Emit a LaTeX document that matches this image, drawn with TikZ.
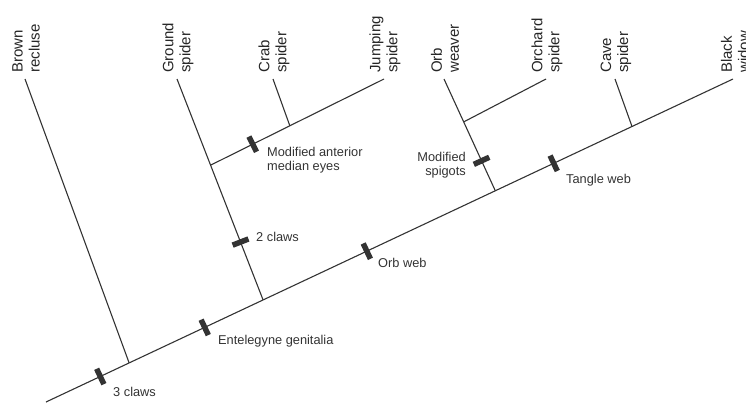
\documentclass[tikz,border=0pt]{standalone}
\usepackage{fontspec}
\setmainfont{Liberation Sans}
\usetikzlibrary{calc}

\tikzstyle{branch}=[draw=black!80,line width=1.1bp]
\tikzstyle{trait}=[shape=rectangle,fill=black!80,minimum width=5.5bp,minimum height=17bp,inner sep=0pt,sloped]
\tikzstyle{taxon}=[rotate=90,anchor=west,align=left,inner sep=0pt,text=black!85,font=\fontsize{15bp}{17bp}\selectfont]
\tikzstyle{traitLabel}=[anchor=west,align=left,inner sep=0pt,text=black!80,font=\fontsize{12.8bp}{14bp}\selectfont]

\begin{document}
\begin{tikzpicture}[x=1bp,y=-1bp]
        \useasboundingbox (0,0) rectangle (746,402);

        % tips
        \coordinate (root) at (46,402);
        \coordinate (bw) at (733,79);
        \coordinate (br) at (25,79);
        \coordinate (gs) at (177,79);
        \coordinate (cs) at (273,79);
        \coordinate (js) at (384,79);
        \coordinate (ow) at (444,79);
        \coordinate (os) at (546,79);
        \coordinate (cv) at (615,79);

        % junctions
        \coordinate (j1) at ($(root)!0.121!(bw)$);
        \coordinate (j2) at ($(root)!0.316!(bw)$);
        \coordinate (j3) at ($(gs)!0.39!(j2)$);
        \coordinate (j4) at ($(j3)!0.457!(js)$);
        \coordinate (j5) at ($(root)!0.654!(bw)$);
        \coordinate (j6) at ($(ow)!0.384!(j5)$);
        \coordinate (j7) at ($(root)!0.853!(bw)$);

        \draw [branch] (root) to node[trait,pos=0.079] (t1) {}
                                 node[trait,pos=0.231] (t2) {}
                                 node[trait,pos=0.467] (t3) {}
                                 node[trait,pos=0.739] (t4) {} (bw);
        \draw [branch] (j1) to (br);
        \draw [branch] (j2) to node[trait,pos=0.262] (t5) {} (gs);
        \draw [branch] (j3) to node[trait,pos=0.243] (t6) {} (js);
        \draw [branch] (j4) to (cs);
        \draw [branch] (j5) to node[trait,pos=0.268] (t7) {} (ow);
        \draw [branch] (j6) to (os);
        \draw [branch] (j7) to (cv);

        \node[taxon] (nbr) at (26,73) {Brown\\recluse};
        \node[taxon] (ngs) at (178,73) {Ground\\spider};
        \node[taxon] (ncs) at (274,73) {Crab\\spider};
        \node[taxon] (njs) at (385,73) {Jumping\\spider};
        \node[taxon] (now) at (445,73) {Orb\\weaver};
        \node[taxon] (nos) at (547,73) {Orchard\\spider};
        \node[taxon] (ncv) at (616,73) {Cave\\spider};
        \node[taxon] (nbw) at (735,73) {Black\\widow};

        \node[traitLabel] (l1) at (113,392) {3 claws};
        \node[traitLabel] (l2) at (218,341) {Entelegyne genitalia};
        \node[traitLabel] (l3) at (378,263) {Orb web};
        \node[traitLabel] (l4) at (566,180) {Tangle web};
        \node[traitLabel] (l5) at (256,237) {2 claws};
        \node[traitLabel] (l6) at (267,160) {Modified anterior\\median eyes};
        \node[traitLabel,anchor=east,align=right] (l7) at (466,165) {Modified\\spigots};
\end{tikzpicture}
\end{document}
